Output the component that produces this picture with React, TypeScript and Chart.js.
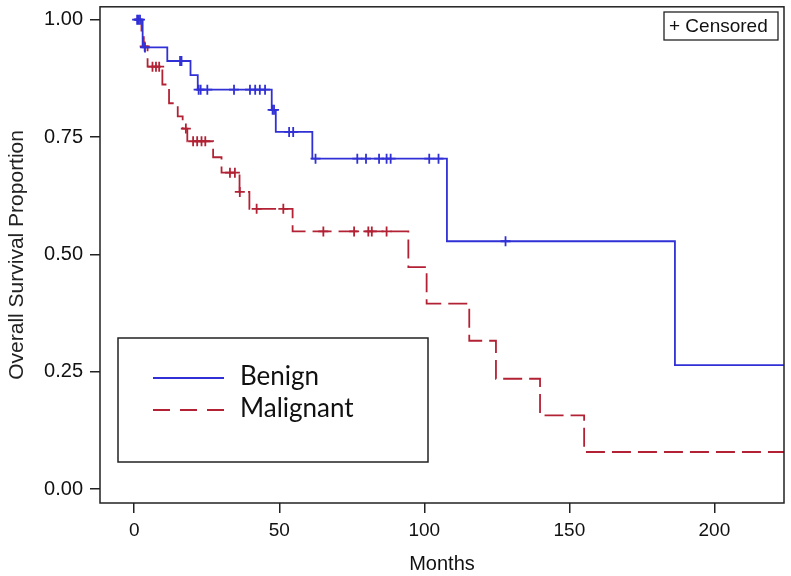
import React, { useEffect, useRef } from 'react';
import { Chart, registerables } from 'chart.js';

Chart.register(...registerables);

// Kaplan-Meier data (months, survival proportion)
const benignTimes = [0, 2.9, 11.4, 19.4, 21.9, 47.4, 48.8, 61.4, 107.8, 186.4];
const benignSurv = [1.0, 0.941, 0.912, 0.882, 0.851, 0.808, 0.761, 0.704, 0.528, 0.264];
const benignCensored = [1.0, 1.5, 2.0, 3.7, 15.8, 16.3, 22.2, 22.9, 25.2, 34.4, 39.9, 41.7, 43.3, 45.1, 47.7, 48.2, 53.4, 54.8, 62.5, 76.9, 79.9, 84.4, 87.0, 88.4, 101.7, 104.9, 128.0];

const malignantTimes = [0, 2.5, 3.3, 4.6, 9.7, 12.0, 15.0, 16.7, 18.3, 27.2, 30.1, 36.3, 39.7, 54.6, 94.5, 100.8, 115.5, 124.7, 139.9, 155.1];
const malignantSurv = [1.0, 0.971, 0.943, 0.9, 0.862, 0.822, 0.794, 0.768, 0.741, 0.707, 0.674, 0.633, 0.597, 0.549, 0.473, 0.395, 0.316, 0.235, 0.157, 0.079];
const malignantCensored = [3.6, 6.3, 7.5, 8.6, 17.8, 20.3, 21.7, 23.2, 24.5, 33.0, 34.7, 36.4, 42.2, 51.4, 65.2, 75.8, 80.7, 81.9, 87.0];

const xTicks = [0, 50, 100, 150, 200];
const yTicks = [0, 0.25, 0.5, 0.75, 1.0];
const seriesNames = ['Benign', 'Malignant'];
const censorLabel = '+ Censored';

const X_MIN = -11.8;
const X_MAX = 224;
const Y_MIN = -0.0297;
const Y_MAX = 1.0275;

const BLUE = 'rgb(48, 48, 214)';
const RED = 'rgb(178, 34, 52)';
const AXIS_FONT = "'Liberation Sans', Arial, sans-serif";

function stepPoints(times: number[], surv: number[], end: number) {
  const pts: { x: number; y: number }[] = [{ x: times[0], y: surv[0] }];
  for (let i = 1; i < times.length; i++) {
    pts.push({ x: times[i], y: surv[i - 1] });
    pts.push({ x: times[i], y: surv[i] });
  }
  pts.push({ x: end, y: surv[surv.length - 1] });
  return pts;
}

function survAt(times: number[], surv: number[], t: number) {
  let v = surv[0];
  for (let i = 0; i < times.length; i++) if (times[i] <= t) v = surv[i];
  return v;
}

const decorPlugin = {
  id: 'decor',
  afterDraw(chart: any) {
    const { ctx, chartArea } = chart;
    ctx.save();
    // plot frame
    ctx.strokeStyle = '#222';
    ctx.lineWidth = 1.5;
    ctx.strokeRect(chartArea.left, chartArea.top, chartArea.right - chartArea.left, chartArea.bottom - chartArea.top);

    // "+ Censored" box
    ctx.lineWidth = 1.3;
    ctx.strokeRect(664, 12, 114, 28);
    ctx.fillStyle = '#111';
    ctx.font = `19px ${AXIS_FONT}`;
    ctx.textBaseline = 'middle';
    ctx.textAlign = 'left';
    ctx.fillText(censorLabel, 669, 26.5);

    // Legend box
    ctx.lineWidth = 1.5;
    ctx.strokeStyle = '#222';
    ctx.fillStyle = '#fff';
    ctx.fillRect(118, 338, 310, 124);
    ctx.strokeRect(118, 338, 310, 124);

    ctx.lineWidth = 1.8;
    ctx.strokeStyle = BLUE;
    ctx.beginPath();
    ctx.moveTo(153, 378);
    ctx.lineTo(224, 378);
    ctx.stroke();

    ctx.strokeStyle = RED;
    ctx.setLineDash([17, 10]);
    ctx.beginPath();
    ctx.moveTo(153, 410);
    ctx.lineTo(224, 410);
    ctx.stroke();
    ctx.setLineDash([]);

    ctx.fillStyle = '#111';
    ctx.font = "26px Lato, 'Open Sans', sans-serif";
    ctx.textBaseline = 'middle';
    ctx.fillText(seriesNames[0], 240, 377);
    ctx.fillText(seriesNames[1], 240, 409);
    ctx.restore();
  },
};

export default function App() {
  const canvasRef = useRef<HTMLCanvasElement | null>(null);

  useEffect(() => {
    document.body.style.margin = '0';
    const canvas = canvasRef.current;
    if (!canvas) return;

    const chart = new Chart(canvas, {
      type: 'line',
      data: {
        datasets: [
          {
            label: seriesNames[0],
            data: stepPoints(benignTimes, benignSurv, X_MAX),
            borderColor: BLUE,
            borderWidth: 1.8,
            pointRadius: 0,
            fill: false,
            tension: 0,
          },
          {
            label: seriesNames[0] + ' censored',
            data: benignCensored.map((t) => ({ x: t, y: survAt(benignTimes, benignSurv, t) })),
            showLine: false,
            pointStyle: 'cross',
            pointRadius: 5,
            pointBorderWidth: 1.8,
            borderColor: BLUE,
            pointBorderColor: BLUE,
          },
          {
            label: seriesNames[1],
            data: stepPoints(malignantTimes, malignantSurv, X_MAX),
            borderColor: RED,
            borderWidth: 1.8,
            borderDash: [19, 7],
            pointRadius: 0,
            fill: false,
            tension: 0,
          },
          {
            label: seriesNames[1] + ' censored',
            data: malignantCensored.map((t) => ({ x: t, y: survAt(malignantTimes, malignantSurv, t) })),
            showLine: false,
            pointStyle: 'cross',
            pointRadius: 5,
            pointBorderWidth: 1.8,
            borderColor: RED,
            pointBorderColor: RED,
          },
        ],
      },
      options: {
        animation: false,
        responsive: false,
        maintainAspectRatio: false,
        layout: { padding: { left: 0, top: 4, right: 7, bottom: 0 } },
        plugins: { legend: { display: false }, tooltip: { enabled: false } },
        scales: {
          x: {
            type: 'linear',
            min: X_MIN,
            max: X_MAX,
            afterBuildTicks: (axis: any) => {
              axis.ticks = xTicks.map((v) => ({ value: v }));
            },
            afterFit: (s: any) => {
              s.height = 73;
              s.paddingLeft = 0;
              s.paddingRight = 0;
            },
            ticks: {
              color: '#111',
              font: { family: AXIS_FONT, size: 19 },
              padding: 6,
              maxRotation: 0,
              autoSkip: false,
            },
            grid: { display: true, drawOnChartArea: false, drawTicks: true, tickLength: 10, color: '#222', lineWidth: 1.5 },
            border: { display: false },
            title: {
              display: true,
              text: 'Months',
              color: '#111',
              font: { family: AXIS_FONT, size: 20 },
              padding: { top: 0, bottom: 0 },
            },
          },
          y: {
            type: 'linear',
            min: Y_MIN,
            max: Y_MAX,
            afterBuildTicks: (axis: any) => {
              axis.ticks = yTicks.map((v) => ({ value: v }));
            },
            afterFit: (s: any) => {
              s.width = 100;
              s.paddingTop = 0;
              s.paddingBottom = 0;
            },
            ticks: {
              color: '#111',
              font: { family: AXIS_FONT, size: 20 },
              padding: 7,
              callback: (v: any) => Number(v).toFixed(2),
              autoSkip: false,
            },
            grid: { display: true, drawOnChartArea: false, drawTicks: true, tickLength: 10, color: '#222', lineWidth: 1.5 },
            border: { display: false },
            title: {
              display: true,
              text: 'Overall Survival Proportion',
              color: '#222',
              font: { family: AXIS_FONT, size: 21 },
              padding: { top: 5, bottom: 0 },
            },
          },
        },
      },
      plugins: [decorPlugin],
    });

    return () => chart.destroy();
  }, []);

  return (
    <div style={{ position: 'fixed', left: 0, top: 0, width: 791, height: 576, background: '#fff' }}>
      <canvas ref={canvasRef} width={791} height={576} style={{ width: 791, height: 576 }} />
    </div>
  );
}
